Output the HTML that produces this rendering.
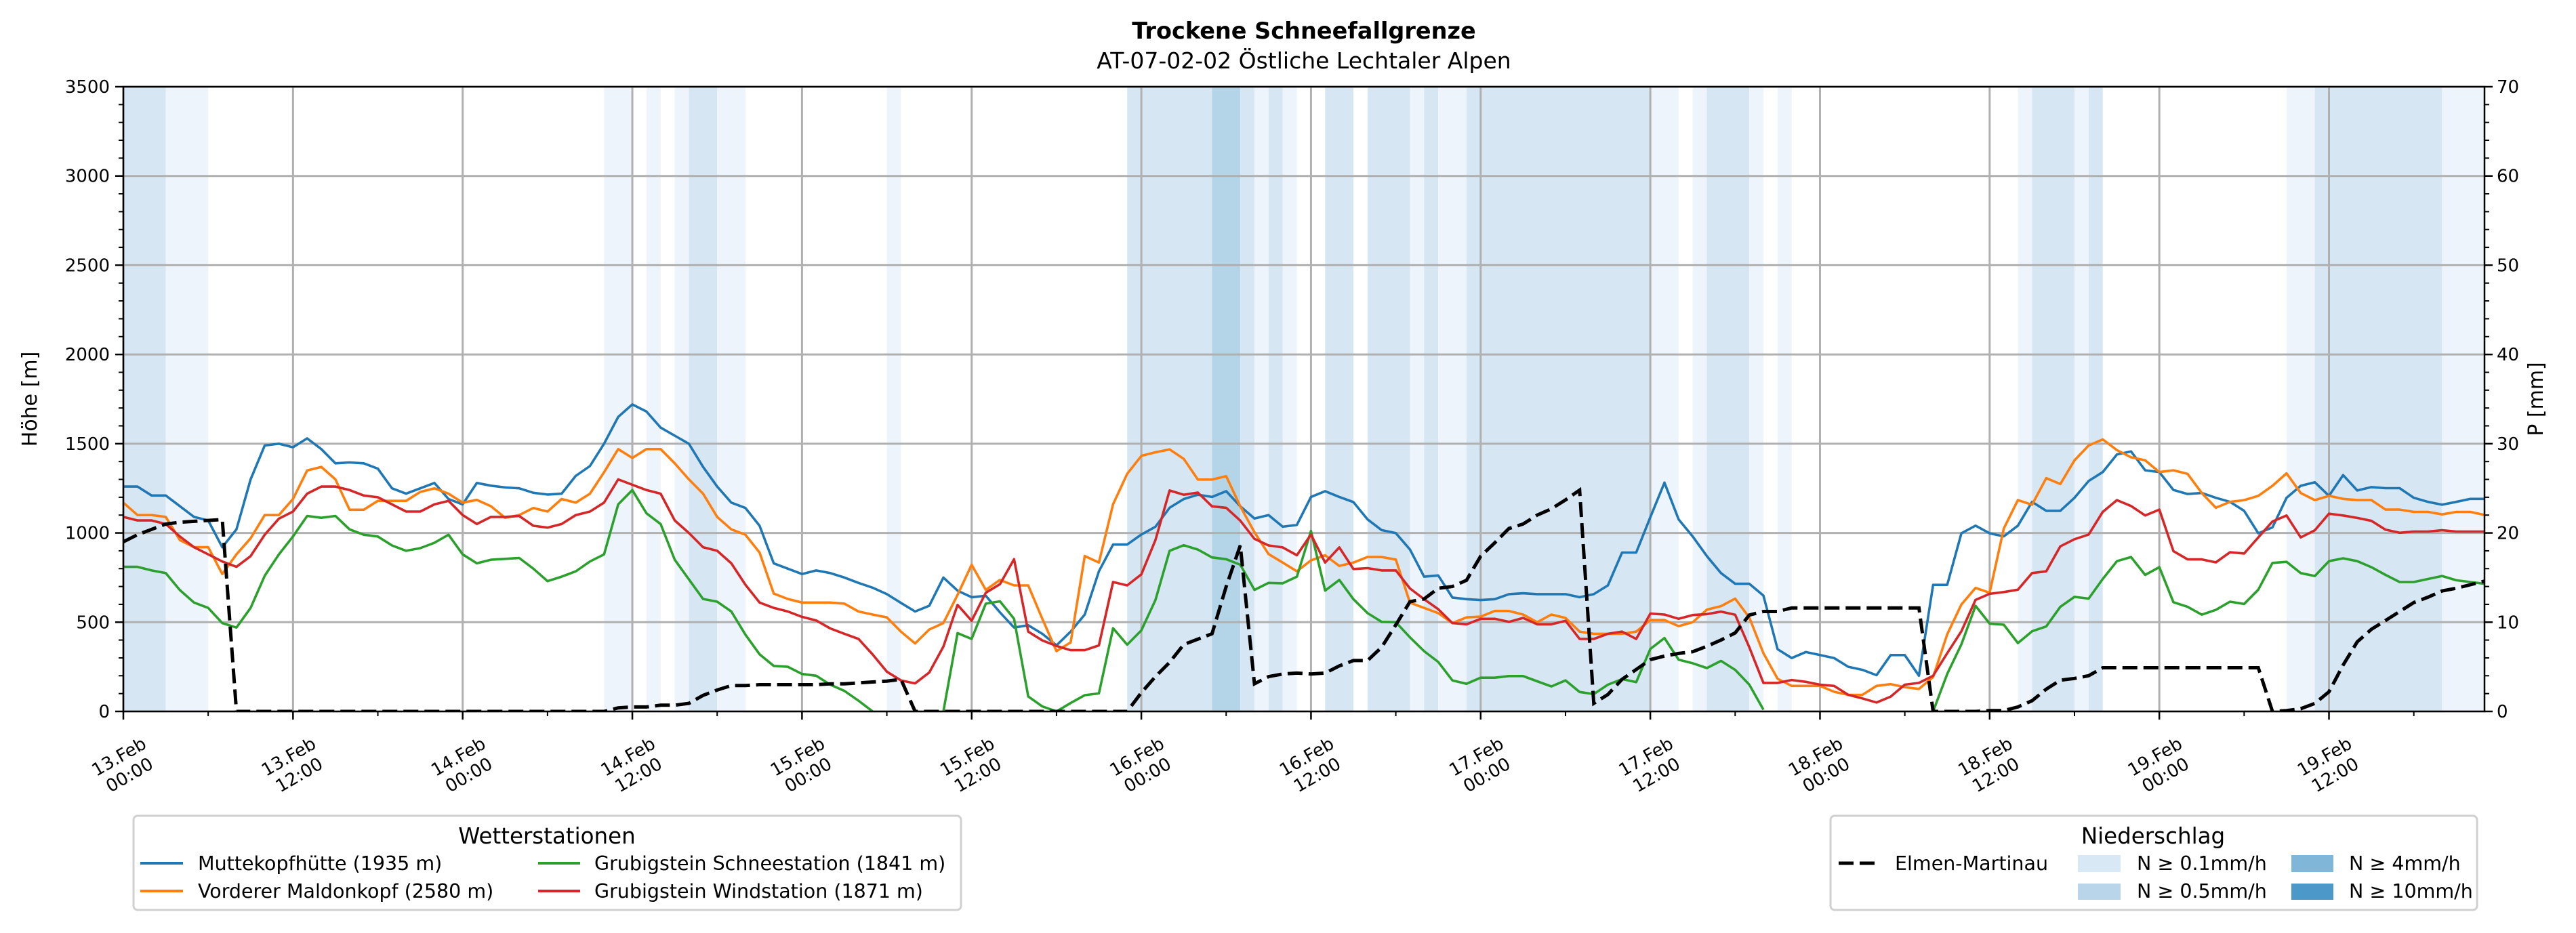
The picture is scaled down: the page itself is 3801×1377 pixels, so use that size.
<!DOCTYPE html>
<html><head><meta charset="utf-8">
<style>
html,body{margin:0;padding:0;background:#fff;}
svg{display:block;font-family:"DejaVu Sans","Liberation Sans",sans-serif;}
</style></head>
<body>
<svg id="chart" xmlns="http://www.w3.org/2000/svg" width="3801" height="1377" viewBox="0 0 3801 1377">
<rect x="0" y="0" width="3801" height="1377" fill="#fff"/>
<text x="1924" y="57" font-size="33.5" font-weight="bold" text-anchor="middle">Trockene Schneefallgrenze</text>
<text x="1924" y="101" font-size="33" text-anchor="middle">AT-07-02-02 Östliche Lechtaler Alpen</text>
<g id="bands"></g>
<g id="grid"></g>
<g id="series"></g>
<g id="axes"></g>
<text transform="translate(54,589) rotate(-90)" font-size="30" text-anchor="middle">Höhe [m]</text>
<text transform="translate(3752,589) rotate(-90)" font-size="30" text-anchor="middle">P [mm]</text>

<g>
<rect x="197" y="1204" width="1221" height="139" rx="6" fill="#fff" stroke="#d0d0d0" stroke-width="3"/>
<text x="807" y="1245" font-size="32.5" text-anchor="middle">Wetterstationen</text>
<line x1="207" y1="1274" x2="270" y2="1274" stroke="#1f77b4" stroke-width="4"/>
<text x="292" y="1284" font-size="28.5">Muttekopfhütte (1935 m)</text>
<line x1="207" y1="1315" x2="270" y2="1315" stroke="#ff7f0e" stroke-width="4"/>
<text x="292" y="1325" font-size="28.5">Vorderer Maldonkopf (2580 m)</text>
<line x1="794" y1="1274" x2="856" y2="1274" stroke="#2ca02c" stroke-width="4"/>
<text x="877" y="1284" font-size="28.5">Grubigstein Schneestation (1841 m)</text>
<line x1="794" y1="1315" x2="856" y2="1315" stroke="#d62728" stroke-width="4"/>
<text x="877" y="1325" font-size="28.5">Grubigstein Windstation (1871 m)</text>
</g>

<g>
<rect x="2701" y="1204" width="954" height="139" rx="6" fill="#fff" stroke="#d0d0d0" stroke-width="3"/>
<text x="3177" y="1245" font-size="32.5" text-anchor="middle">Niederschlag</text>
<line x1="2713" y1="1274" x2="2770" y2="1274" stroke="#000" stroke-width="5" stroke-dasharray="22,9"/>
<text x="2796" y="1284" font-size="28.5">Elmen-Martinau</text>
<rect x="3066" y="1262" width="63" height="25" fill="#d9e8f5"/>
<text x="3153" y="1284" font-size="28.5">N ≥ 0.1mm/h</text>
<rect x="3066" y="1304" width="63" height="24" fill="#b9d5ea"/>
<text x="3153" y="1325" font-size="28.5">N ≥ 0.5mm/h</text>
<rect x="3381" y="1262" width="62" height="25" fill="#80b7d9"/>
<text x="3466" y="1284" font-size="28.5">N ≥ 4mm/h</text>
<rect x="3381" y="1304" width="62" height="24" fill="#4b98c9"/>
<text x="3466" y="1325" font-size="28.5">N ≥ 10mm/h</text>
</g>
</svg>
<script>
// ---- data ----
const hours = Array.from({length:168},(_,i)=>i);
const dayLabels = ["13.Feb","13.Feb","14.Feb","14.Feb","15.Feb","15.Feb","16.Feb","16.Feb","17.Feb","17.Feb","18.Feb","18.Feb","19.Feb","19.Feb"];
const timeLabels = ["00:00","12:00","00:00","12:00","00:00","12:00","00:00","12:00","00:00","12:00","00:00","12:00","00:00","12:00"];
const yTicks = [0,500,1000,1500,2000,2500,3000,3500];
const pTicks = [0,10,20,30,40,50,60,70];
const muttekopf = [1260,1260,1210,1210,1150,1090,1070,920,1020,1300,1490,1500,1480,1530,1470,1390,1395,1390,1360,1250,1220,1250,1280,1190,1160,1280,1265,1255,1250,1225,1215,1220,1320,1375,1500,1650,1720,1680,1590,1545,1500,1370,1260,1170,1140,1040,830,800,770,790,775,750,720,693,657,608,560,592,750,677,640,648,555,470,483,435,370,447,543,785,935,935,991,1035,1141,1190,1214,1202,1234,1149,1081,1100,1035,1045,1202,1234,1202,1173,1076,1016,999,907,755,762,638,629,624,629,657,662,657,657,657,640,657,706,890,890,1088,1282,1076,980,870,775,715,715,649,349,299,333,316,299,250,233,203,316,316,200,709,709,998,1041,998,981,1041,1174,1124,1124,1197,1291,1341,1440,1457,1351,1341,1241,1218,1224,1197,1174,1124,998,1031,1197,1264,1284,1208,1324,1238,1257,1251,1251,1197,1174,1158,1174,1191,1191];
const maldonkopf = [1170,1100,1100,1090,960,920,920,770,880,970,1100,1100,1190,1350,1370,1300,1130,1130,1180,1180,1180,1230,1250,1220,1170,1185,1150,1085,1100,1140,1120,1190,1170,1220,1340,1470,1420,1470,1470,1390,1300,1220,1090,1020,990,890,660,630,610,610,610,604,560,543,527,447,381,459,495,653,822,681,737,706,706,519,338,387,871,834,1161,1331,1432,1452,1468,1415,1299,1299,1318,1149,1004,882,834,785,846,875,815,834,865,865,851,609,580,551,495,527,531,563,563,543,500,543,524,447,435,435,435,447,512,512,478,500,570,590,632,526,326,183,143,143,143,110,93,93,143,153,136,126,193,432,599,692,665,1025,1184,1158,1307,1274,1407,1490,1524,1464,1424,1407,1341,1351,1331,1224,1141,1174,1184,1208,1264,1334,1224,1184,1208,1191,1184,1184,1131,1131,1118,1118,1104,1118,1118,1101];
const schneestation = [810,810,790,775,680,610,580,495,470,580,760,880,980,1095,1085,1095,1020,990,980,930,900,915,945,990,880,830,850,855,860,800,730,755,785,840,880,1160,1240,1110,1050,850,740,630,615,560,430,320,255,250,210,200,150,115,60,0,null,null,null,null,0,439,406,604,617,519,84,28,0,47,91,101,466,374,454,624,900,931,907,863,853,822,681,720,718,755,1011,677,737,629,551,502,500,415,338,277,174,155,189,189,198,198,169,140,174,109,97,150,181,164,350,411,290,270,243,283,233,150,10,null,null,null,null,null,null,null,null,null,null,null,0,210,376,592,492,486,383,449,476,586,642,632,742,842,865,765,808,612,586,542,569,615,602,682,832,838,775,759,842,858,842,808,765,725,725,742,759,735,725,715];
const windstation = [1090,1070,1070,1050,980,920,880,840,810,870,990,1080,1120,1220,1260,1260,1240,1210,1200,1160,1120,1120,1160,1180,1100,1050,1090,1090,1095,1040,1030,1050,1100,1120,1170,1300,1270,1240,1220,1070,1000,920,900,830,710,610,580,560,530,510,465,435,406,319,223,174,157,218,363,597,508,665,713,853,447,398,367,343,343,370,725,706,768,960,1238,1214,1226,1149,1141,1069,967,930,919,875,991,834,919,798,803,790,790,689,629,573,495,488,519,519,502,524,488,488,508,406,406,435,447,406,548,543,519,540,545,559,542,359,160,160,176,166,150,143,93,73,50,83,150,160,200,326,449,625,659,669,682,775,785,925,965,991,1118,1184,1151,1098,1131,898,852,852,835,892,885,975,1064,1098,975,1015,1108,1098,1084,1068,1018,1001,1008,1008,1015,1008,1008,1008];
const elmenPrecip = [19,19.8,20.4,21,21.2,21.3,21.4,21.5,0,0,0,0,0,0,0,0,0,0,0,0,0,0,0,0,0,0,0,0,0,0,0,0,0,0,0,0.4,0.5,0.5,0.7,0.7,0.9,1.8,2.4,2.9,2.9,3,3,3,3,3,3.1,3.1,3.2,3.3,3.4,3.6,0,0,0,0,0,0,0,0,0,0,0,0,0,0,0,0,2.1,3.9,5.5,7.5,8.1,8.7,14,18.6,3.1,3.9,4.2,4.3,4.2,4.3,5.1,5.7,5.7,7.2,9.7,12.3,12.6,13.8,14,14.7,17.4,18.9,20.5,21,22,22.7,23.7,24.8,0.9,1.9,3.6,4.7,5.8,6.2,6.5,6.7,7.3,8,8.8,10.8,11.2,11.2,11.6,11.6,11.6,11.6,11.6,11.6,11.6,11.6,11.6,11.6,0,0,0,0,0.1,0.1,0.5,1.2,2.5,3.5,3.7,4,4.9,4.9,4.9,4.9,4.9,4.9,4.9,4.9,4.9,4.9,4.9,4.9,0,0.1,0.3,0.9,2.2,5.2,7.8,9.2,10.2,11.2,12.2,12.8,13.5,13.8,14.2,14.6];
const bandStart = [0,3,34,37,39,40,42,54,71,77,79,80,81,82,85,88,91,92,93,95,108,111,112,115,117,134,135,138,139,153,155,164];
const bandEnd   = [3,6,36,38,40,42,44,55,77,79,80,81,82,83,87,91,92,93,95,108,110,112,115,116,118,135,138,139,140,155,164,167];
const bandLevel = [1,0,0,0,0,1,0,0,1,2,1,0,1,0,1,1,0,1,0,1,0,0,1,0,0,0,1,0,1,0,1,0];

// ---- scales ----
const X0=182, X1=3666, Y0=1050, Y1=128, HMAX=167;
const xS = h => X0 + h*(X1-X0)/HMAX;
const yS = v => Y0 - v*(Y0-Y1)/3500;
const pS = v => Y0 - v*(Y0-Y1)/70;
const NS="http://www.w3.org/2000/svg";
function mk(tag, attrs, parent){const e=document.createElementNS(NS,tag);for(const k in attrs)e.setAttribute(k,attrs[k]);parent.appendChild(e);return e;}
const bandColors=["#eef4fb","#d6e6f3","#b4d4e8","#4b98c9"];

const gB=document.getElementById('bands');
bandStart.forEach((s,i)=>{
  const r=mk('rect',{x:xS(s),y:Y1,width:xS(bandEnd[i])-xS(s),height:Y0-Y1,fill:bandColors[bandLevel[i]]},gB);
  
  
});
const gG=document.getElementById('grid');
yTicks.forEach(v=>{
  const l=mk('line',{x1:X0,x2:X1,y1:yS(v),y2:yS(v),stroke:'#b0b0b0','stroke-width':3},gG);
  
  
});
dayLabels.forEach((d,i)=>{
  const x=xS(i*12);
  const l=mk('line',{x1:x,x2:x,y1:Y1,y2:Y0,stroke:'#b0b0b0','stroke-width':3},gG);
  
  
});
const gS=document.getElementById('series');
function pathFor(arr, sc){
  let d='',pen=false;
  arr.forEach((v,i)=>{
    if(v===null){pen=false;return;}
    d+=(pen?'L':'M')+xS(hours[i]).toFixed(1)+','+sc(v).toFixed(1)+' ';
    pen=true;
  });
  return d;
}
const seriesList=[[muttekopf,'#1f77b4','line-muttekopfhuette'],[maldonkopf,'#ff7f0e','line-maldonkopf'],[schneestation,'#2ca02c','line-schneestation'],[windstation,'#d62728','line-windstation']];
const clip=mk('clipPath',{id:'pc'},gS);mk('rect',{x:X0,y:Y1,width:X1-X0,height:Y0-Y1},clip);
seriesList.forEach(s=>{
  const p=mk('path',{d:pathFor(s[0],yS),fill:'none',stroke:s[1],'stroke-width':3.6,'stroke-linejoin':'round','clip-path':'url(#pc)'},gS);
  
  
});
const dp=mk('path',{d:pathFor(elmenPrecip,pS),fill:'none',stroke:'#000','stroke-width':5,'stroke-dasharray':'22,9','clip-path':'url(#pc)'},gS);



const gA=document.getElementById('axes');
const frame=mk('rect',{x:X0,y:Y1,width:X1-X0,height:Y0-Y1,fill:'none',stroke:'#000','stroke-width':2.5},gA);


for(let v=0;v<=3500;v+=100){
  const major=v%500===0;
  mk('line',{x1:X0-(major?12:7),x2:X0,y1:yS(v),y2:yS(v),stroke:'#000','stroke-width':major?2.5:2},gA);
}
yTicks.forEach(v=>{
  const t=mk('text',{x:X0-20,y:yS(v)+9,'font-size':26,'text-anchor':'end'},gA);
  t.textContent=v;
  
  
});
for(let v=0;v<=70;v+=2){
  const major=v%10===0;
  mk('line',{x1:X1,x2:X1+(major?12:7),y1:pS(v),y2:pS(v),stroke:'#000','stroke-width':major?2.5:2},gA);
}
pTicks.forEach(v=>{
  const t=mk('text',{x:X1+18,y:pS(v)+9,'font-size':26,'text-anchor':'start'},gA);
  t.textContent=v;
  
  
});
for(let h=0;h<=HMAX;h+=6){
  const major=h%12===0;
  mk('line',{x1:xS(h),x2:xS(h),y1:Y0,y2:Y0+(major?12:7),stroke:'#000','stroke-width':major?2.5:2},gA);
}
dayLabels.forEach((d,i)=>{
  const x=xS(i*12);
  const t=mk('text',{transform:`translate(${x},1128) rotate(-30)`,'font-size':26,'text-anchor':'middle'},gA);
  
  
  const a=mk('tspan',{x:0,y:-4},t);a.textContent=d;
  const b=mk('tspan',{x:0,y:27},t);b.textContent=timeLabels[i];
});
</script>
</body></html>
